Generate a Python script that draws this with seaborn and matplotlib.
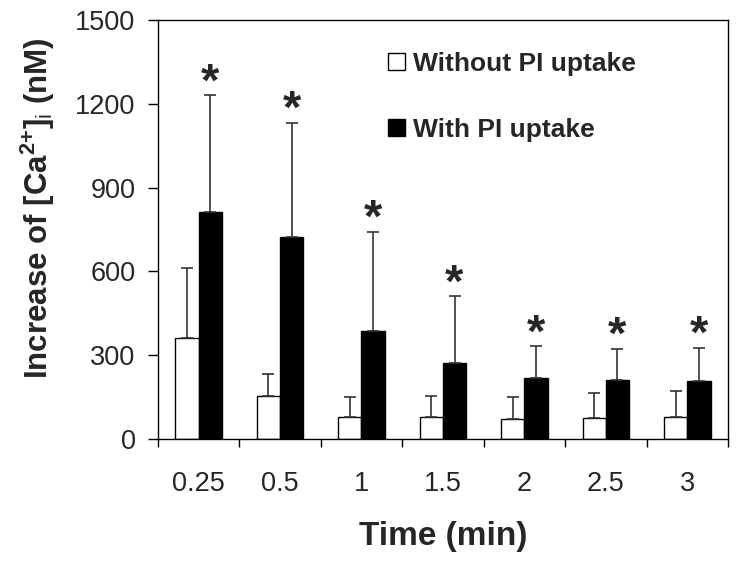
import numpy as np
import pandas as pd
import matplotlib
matplotlib.use('Agg')
import matplotlib.pyplot as plt
import matplotlib.patches as mpatches
from matplotlib.ticker import FixedLocator
import seaborn as sns

# Values
times = ['0.25', '0.5', '1', '1.5', '2', '2.5', '3']
without_pi = [363, 153, 80, 80, 72, 75, 79]
without_pi_err = [248, 81, 69, 73, 77, 90, 92]
with_pi = [814, 723, 387, 271, 217, 210, 207]
with_pi_err = [416, 408, 355, 240, 115, 112, 120]
groups = ['Without PI uptake', 'With PI uptake']

data = pd.DataFrame({
    'Time': times * 2,
    'Value': without_pi + with_pi,
    'Group': [groups[0]] * len(times) + [groups[1]] * len(times),
})

sns.set_style('ticks')
plt.rcParams['font.family'] = ['Liberation Sans', 'DejaVu Sans']
plt.rcParams['mathtext.fontset'] = 'custom'
plt.rcParams['mathtext.rm'] = 'Liberation Sans'
plt.rcParams['mathtext.bf'] = 'Liberation Sans:bold'

fig = plt.figure(figsize=(7.41, 5.67), dpi=100)
ax = fig.add_axes([0.213, 0.2257, 0.7695, 0.739])

sns.barplot(data=data, x='Time', y='Value', hue='Group', order=times,
            hue_order=groups, palette=['white', 'black'], edgecolor='black',
            linewidth=1, width=0.57, errorbar=None, legend=False, ax=ax)

# error bars (upward only) and asterisks over the PI-uptake bars
errs = [without_pi_err, with_pi_err]
bar_conts = list(ax.containers)
for i, cont in enumerate(bar_conts):
    xs = [b.get_x() + b.get_width() / 2 for b in cont]
    hs = [b.get_height() for b in cont]
    ax.errorbar(xs, hs, yerr=[np.zeros(len(hs)), errs[i]], fmt='none',
                ecolor='#333333', elinewidth=1.2, capsize=4, capthick=1.2)
    if i == 1:
        for x, h, e in zip(xs, hs, errs[i]):
            ax.text(x, h + e, '*', ha='center', va='baseline',
                    fontsize=34, fontweight='bold')

ax.set_ylim(0, 1500)
ax.set_xlim(-0.5, len(times) - 0.5)
ax.set_yticks([0, 300, 600, 900, 1200, 1500])
ax.tick_params(axis='y', direction='out', length=7, width=1, pad=9,
               labelsize=19.5, color='black')
ax.tick_params(axis='x', which='major', length=0, pad=23, labelsize=19.5)
ax.xaxis.set_minor_locator(FixedLocator(np.arange(-0.5, len(times), 1.0)))
ax.tick_params(axis='x', which='minor', direction='out', length=6, width=1,
               color='black')

for s in ax.spines.values():
    s.set_visible(True)
    s.set_color('black')
    s.set_linewidth(1)

ax.set_ylabel(r'Increase of [Ca$^{\mathbf{2{+}}}$]$_{\mathrm{i}}$ (nM)',
              fontsize=22.5, fontweight='bold')
ax.yaxis.set_label_coords(-0.176, 0.551)
ax.set_xlabel('Time (min)', fontsize=24, fontweight='bold')
ax.xaxis.set_label_coords(0.5, -0.196)

handles = [mpatches.Patch(facecolor='white', edgecolor='black', linewidth=1),
           mpatches.Patch(facecolor='black', edgecolor='black', linewidth=1)]
leg = ax.legend(handles, groups, loc='upper left',
                bbox_to_anchor=(0.4035, 0.924), frameon=False,
                borderpad=0, borderaxespad=0, handlelength=0.64,
                handleheight=0.64, handletextpad=0.3, labelspacing=1.58,
                prop={'size': 19, 'weight': 'bold'})

fig.savefig('out.png', dpi=100)
